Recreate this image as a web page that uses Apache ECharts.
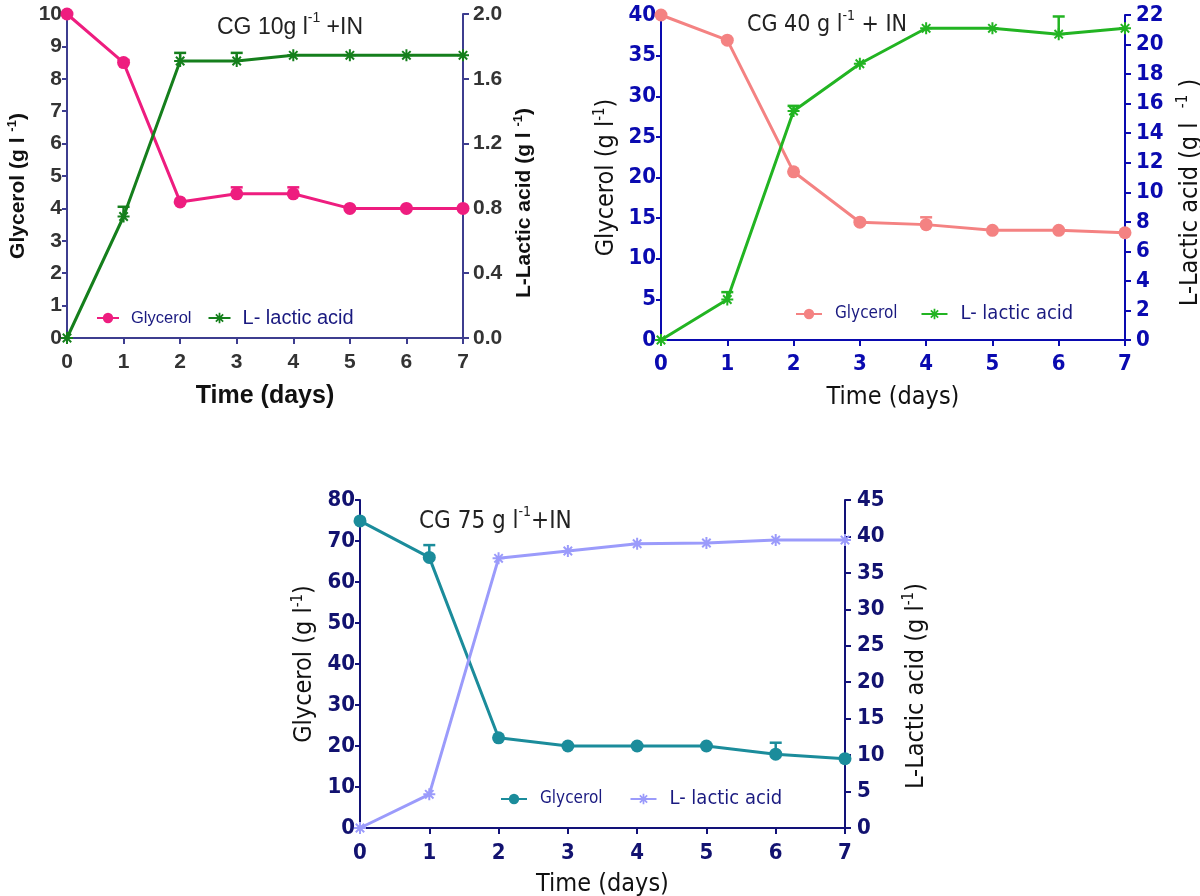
<!DOCTYPE html>
<html>
<head>
<meta charset="utf-8">
<script src="https://cdn.jsdelivr.net/npm/echarts@6/dist/echarts.min.js"></script>
<style>html,body{margin:0;padding:0;background:#fff}#c{width:1200px;height:896px}</style>
</head>
<body>
<div id="c"></div>
<script>
// ---- data ----
var days = [0, 1, 2, 3, 4, 5, 6, 7];

// Panel 1: CG 10 g/l + IN
var gly10 = [10, 8.5, 4.2, 4.45, 4.45, 4.0, 4.0, 4.0];
var gly10Err = [0, 0.08, 0, 0.2, 0.2, 0, 0, 0];
var lac10 = [0, 0.75, 1.71, 1.71, 1.745, 1.745, 1.745, 1.745];
var lac10Err = [0, 0.06, 0.05, 0.05, 0, 0, 0, 0];

// Panel 2: CG 40 g/l + IN
var gly40 = [40, 36.9, 20.7, 14.5, 14.2, 13.5, 13.5, 13.2];
var gly40Err = [0, 0, 0, 0, 0.9, 0, 0, 0];
var lac40 = [0, 2.74, 15.5, 18.7, 21.1, 21.1, 20.7, 21.1];
var lac40Err = [0, 0.5, 0.35, 0, 0, 0, 1.2, 0];

// Panel 3: CG 75 g/l + IN
var gly75 = [74.9, 66.0, 22.0, 20.0, 20.0, 20.0, 18.0, 16.9];
var gly75Err = [0, 3.0, 0, 0, 0, 0, 2.8, 0];
var lac75 = [0, 4.62, 37.0, 38.0, 39.0, 39.1, 39.5, 39.5];
var lac75Err = [0, 0, 0, 0, 0, 0, 0, 0];

// axis ticks
var p1Left = {min: 0, max: 10, interval: 1};
var p1Right = {min: 0, max: 2, interval: 0.4};
var p2Left = {min: 0, max: 40, interval: 5};
var p2Right = {min: 0, max: 22, interval: 2};
var p3Left = {min: 0, max: 80, interval: 10};
var p3Right = {min: 0, max: 45, interval: 5};

// ---- helpers ----
var ASTER = 'path://M-1,-6h2v12h-2z M-6,-1h12v2h-12z M-3.5,-4.9L4.9,3.5L3.5,4.9L-4.9,-3.5z M3.5,-4.9L4.9,-3.5L-3.5,4.9L-4.9,3.5z';
function pairs(v) { return days.map(function (d, i) { return [d, v[i]]; }); }
function errData(v, e) {
  var out = [];
  days.forEach(function (d, i) { if (e[i] > 0) out.push([d, v[i], e[i]]); });
  return out;
}
function errSeries(v, e, color, gi, yi) {
  return {
    type: 'custom', xAxisIndex: gi, yAxisIndex: yi, z: 1, silent: true,
    data: errData(v, e),
    renderItem: function (params, api) {
      var x = api.value(0), y = api.value(1), er = api.value(2);
      var p0 = api.coord([x, y]); var p1 = api.coord([x, y + er]);
      return {type: 'group', children: [
        {type: 'line', shape: {x1: p0[0], y1: p0[1], x2: p1[0], y2: p1[1]}, style: {stroke: color, lineWidth: 2.5}},
        {type: 'line', shape: {x1: p1[0] - 6, y1: p1[1], x2: p1[0] + 6, y2: p1[1]}, style: {stroke: color, lineWidth: 2.5}}
      ]};
    }
  };
}
function supRich(fs, color, weight, family) {
  return {sup: {fontSize: fs, color: color, fontWeight: weight, fontFamily: family, verticalAlign: 'top', padding: [0, 0, fs * 0.9, 0]}};
}

var F1 = 'Liberation Sans, Arial, sans-serif';
var FN = '"Liberation Sans Narrow", "DejaVu Sans Condensed", "Liberation Sans", sans-serif';

var panels = [
  {grid: {left: 67, top: 14, width: 396, height: 324},
   axisColor: '#3d3d8f', labelColor: '#333333', labelWeight: 'bold', labelSize: 21, family: F1,
   nameColor: '#111', nameWeight: 'bold', nameSize: 21, xNameSize: 25,
   left: p1Left, right: p1Right, rightFmt: function (v) { return v.toFixed(1); },
   leftName: 'Glycerol (g l {sup|-1})', rightName: 'L-Lactic acid (g l {sup|-1})',
   leftGap: 36, rightGap: 49, xGap: 46, leftShift: 20, rightShift: 54,
   xMargin: 14, rMargin: 10,
   glyColor: '#ee1d7f', lacColor: '#157f1c',
   gly: gly10, glyErr: gly10Err, lac: lac10, lacErr: lac10Err,
   legend: {left: 91, top: 303, itemGap: 16, iw: 22, s1: 16.5, s2: 20, pad: 7, family: F1},
   title: {text: 'CG 10g l{sup|-1} +IN', left: 212, top: 6, size: 23, family: F1}
  },
  {grid: {left: 661, top: 15, width: 464, height: 325},
   axisColor: '#0a0ab0', labelColor: '#0a0ab0', labelWeight: 'bold', labelSize: 22, family: FN,
   nameColor: '#111', nameWeight: 'normal', nameSize: 25, xNameSize: 25,
   left: p2Left, right: p2Right, rightFmt: null,
   leftName: 'Glycerol (g l{sup|-1})', rightName: 'L-Lactic acid (g l  {sup|-1} )',
   leftGap: 40, rightGap: 51, xGap: 45, leftShift: 0, rightShift: 30,
   xMargin: 13, rMargin: 11,
   glyColor: '#f48282', lacColor: '#22b422',
   gly: gly40, glyErr: gly40Err, lac: lac40, lacErr: lac40Err,
   legend: {left: 790, top: 299, itemGap: 23, iw: 26, s1: 17, s2: 20, pad: 8, family: FN},
   title: {text: 'CG 40 g l{sup|-1} + IN', left: 742, top: 4, size: 23, family: FN}
  },
  {grid: {left: 360, top: 500, width: 485, height: 328},
   axisColor: '#121278', labelColor: '#121270', labelWeight: 'bold', labelSize: 22, family: FN,
   nameColor: '#111', nameWeight: 'normal', nameSize: 25, xNameSize: 25,
   left: p3Left, right: p3Right, rightFmt: null,
   leftName: 'Glycerol (g l{sup|-1})', rightName: 'L-Lactic acid (g l{sup|-1})',
   leftGap: 41, rightGap: 57, xGap: 44, leftShift: 0, rightShift: 44,
   xMargin: 14, rMargin: 12,
   glyColor: '#1b8c9b', lacColor: '#9b9bfb',
   gly: gly75, glyErr: gly75Err, lac: lac75, lacErr: lac75Err,
   legend: {left: 495, top: 784, itemGap: 27, iw: 26, s1: 17, s2: 20, pad: 8, family: FN},
   title: {text: 'CG 75 g l{sup|-1}+IN', left: 414, top: 500, size: 24, family: FN}
  }
];

var option = {backgroundColor: '#fff', animation: false, grid: [], xAxis: [], yAxis: [], series: [], legend: [], title: []};

panels.forEach(function (p, gi) {
  option.grid.push(Object.assign({outerBoundsMode: 'none', containLabel: false}, p.grid));
  var lineStyle = {color: p.axisColor, width: 2};
  var lbl = {color: p.labelColor, fontWeight: p.labelWeight, fontSize: p.labelSize, fontFamily: p.family};
  option.xAxis.push({
    type: 'value', gridIndex: gi, min: 0, max: 7, interval: 1,
    name: 'Time (days)', nameLocation: 'middle', nameGap: p.xGap,
    nameTextStyle: {color: p.nameColor, fontWeight: p.nameWeight, fontSize: p.xNameSize, fontFamily: p.family},
    axisLine: {show: true, lineStyle: lineStyle},
    axisTick: {show: true, inside: false, length: 6, lineStyle: lineStyle},
    axisLabel: Object.assign({margin: p.xMargin}, lbl),
    splitLine: {show: false}
  });
  function nameStyle(shift) {
    return {color: p.nameColor, fontWeight: p.nameWeight, fontSize: p.nameSize, fontFamily: p.family,
            padding: [0, shift, 0, 0],
            rich: supRich(Math.round(p.nameSize * 0.6), p.nameColor, p.nameWeight, p.family)};
  }
  option.yAxis.push({
    type: 'value', gridIndex: gi, position: 'left', min: p.left.min, max: p.left.max, interval: p.left.interval,
    name: p.leftName, nameLocation: 'middle', nameGap: p.leftGap, nameRotate: 90, nameTextStyle: nameStyle(p.leftShift),
    axisLine: {show: true, lineStyle: lineStyle},
    axisTick: {show: true, inside: false, length: 5, lineStyle: lineStyle},
    axisLabel: Object.assign({margin: 5}, lbl),
    splitLine: {show: false}
  });
  var rl = Object.assign({margin: p.rMargin}, lbl);
  if (p.rightFmt) rl.formatter = p.rightFmt;
  option.yAxis.push({
    type: 'value', gridIndex: gi, position: 'right', min: p.right.min, max: p.right.max, interval: p.right.interval,
    name: p.rightName, nameLocation: 'middle', nameGap: p.rightGap, nameRotate: 90, nameTextStyle: nameStyle(p.rightShift),
    axisLine: {show: true, lineStyle: lineStyle},
    axisTick: {show: true, inside: false, length: 6, lineStyle: lineStyle},
    axisLabel: rl,
    splitLine: {show: false}
  });
  var yL = gi * 2, yR = gi * 2 + 1;
  option.series.push(errSeries(p.gly, p.glyErr, p.glyColor, gi, yL));
  option.series.push(errSeries(p.lac, p.lacErr, p.lacColor, gi, yR));
  option.series.push({
    name: 'Glycerol#' + gi, type: 'line', xAxisIndex: gi, yAxisIndex: yL, data: pairs(p.gly),
    symbol: 'circle', symbolSize: 13, clip: false, z: 3,
    lineStyle: {color: p.glyColor, width: 3}, itemStyle: {color: p.glyColor}
  });
  option.series.push({
    name: 'L- lactic acid#' + gi, type: 'line', xAxisIndex: gi, yAxisIndex: yR, data: pairs(p.lac),
    symbol: ASTER, symbolSize: 12, clip: false, z: 4,
    lineStyle: {color: p.lacColor, width: 3}, itemStyle: {color: p.lacColor}
  });
  var lg = p.legend;
  option.legend.push({
    left: lg.left, top: lg.top, orient: 'horizontal', itemGap: lg.itemGap,
    itemWidth: lg.iw, itemHeight: 13, selectedMode: false,
    data: ['Glycerol#' + gi, 'L- lactic acid#' + gi],
    formatter: function (n) { var t = n.split('#')[0]; return (t === 'Glycerol' ? '{a|' : '{b|') + t + '}'; },
    textStyle: {color: '#1a1a80', fontFamily: lg.family,
      rich: {a: {fontSize: lg.s1, color: '#1a1a80', fontFamily: lg.family, padding: [0, 0, 0, lg.pad]},
             b: {fontSize: lg.s2, color: '#1a1a80', fontFamily: lg.family, padding: [0, 0, 0, lg.pad]}}}
  });
  option.title.push({
    text: p.title.text, left: p.title.left, top: p.title.top,
    textStyle: {color: '#222', fontWeight: 'normal', fontSize: p.title.size, fontFamily: p.title.family,
      rich: {sup: {fontSize: Math.round(p.title.size * 0.6), color: '#222', fontFamily: p.title.family, verticalAlign: 'top', padding: [0, 0, p.title.size * 0.8, 0]}}}
  });
});

var chart = echarts.init(document.getElementById('c'), null, {renderer: 'canvas'});
chart.setOption(option);
</script>
</body>
</html>
